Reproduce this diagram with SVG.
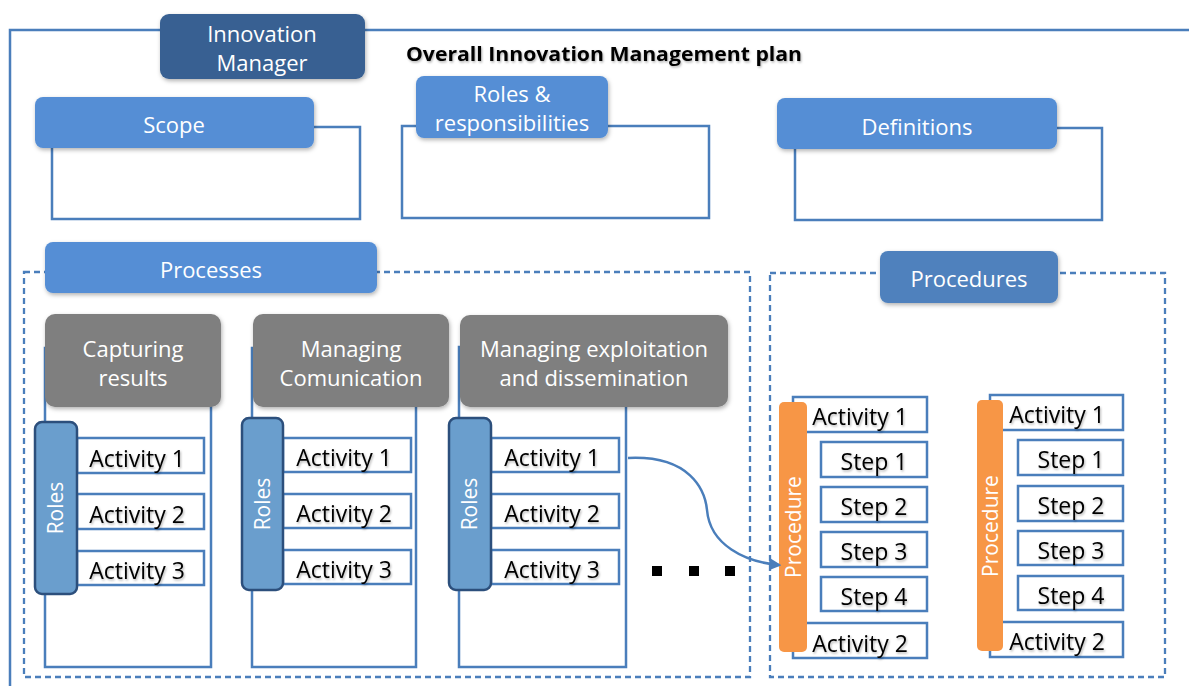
<svg xmlns="http://www.w3.org/2000/svg" width="1189" height="686" viewBox="0 0 1189 686">
<defs>
<filter id="sh" x="-20%" y="-20%" width="140%" height="150%"><feDropShadow dx="1" dy="2" stdDeviation="2" flood-color="#000" flood-opacity="0.3"/></filter>
<filter id="ts" x="-10%" y="-30%" width="120%" height="160%"><feDropShadow dx="1" dy="1.5" stdDeviation="1" flood-color="#000" flood-opacity="0.3"/></filter>
<marker id="arr" viewBox="0 0 10 10" refX="8" refY="5" markerWidth="5" markerHeight="5" orient="auto"><path d="M0,0 L10,5 L0,10 z" fill="#4A7EBB"/></marker>
<style>
.frame{fill:none;stroke:#4A7EBB;stroke-width:2.5}
.box{fill:#fff;stroke:#4A7EBB;stroke-width:2.5}
.dash{fill:none;stroke:#4A7EBB;stroke-width:2.3;stroke-dasharray:6 4}
.hdr{fill:#558ED5;filter:url(#sh)}
.hdr2{fill:#4F81BD;filter:url(#sh)}
.dark{fill:#376092;filter:url(#sh)}
.gray{fill:#7F7F7F;filter:url(#sh)}
.roles{fill:#6A9ECD;stroke:#2C4F7C;stroke-width:2.5}
.proc{fill:#F79646}
.wt{font-family:"Open Sans","Liberation Sans",sans-serif;font-size:22px;fill:#fff;text-anchor:middle}
.vt{font-family:"Open Sans","Liberation Sans",sans-serif;font-size:21px;fill:#fff;text-anchor:middle}
.bt{font-family:"Open Sans","Liberation Sans",sans-serif;font-size:23px;fill:#000;text-anchor:middle;filter:url(#ts)}
.title{font-family:"Open Sans","Liberation Sans",sans-serif;font-size:20px;font-weight:bold;fill:#000;filter:url(#ts)}
</style>
</defs>
<path class="frame" d="M10,690 V30 H1195"/>
<g id="title"><text class="title" x="406" y="61" textLength="396" lengthAdjust="spacingAndGlyphs">Overall Innovation Management plan</text></g>
<g id="innovation-manager"><rect class="dark" x="160" y="14" width="205" height="65" rx="9"/><text class="wt" x="262" y="42">Innovation</text><text class="wt" x="262" y="71">Manager</text></g>
<g id="scope"><rect class="box" x="52" y="127" width="308" height="92"/><rect class="hdr" x="35" y="97" width="279" height="51" rx="8"/><text class="wt" x="174" y="133">Scope</text></g>
<g id="roles-resp"><rect class="box" x="402" y="126" width="307" height="92"/><rect class="hdr" x="416" y="76" width="192" height="62" rx="8"/><text class="wt" x="512" y="102">Roles &amp;</text><text class="wt" x="512" y="131">responsibilities</text></g>
<g id="definitions"><rect class="box" x="795" y="128" width="307" height="92"/><rect class="hdr" x="777" y="98" width="280" height="51" rx="8"/><text class="wt" x="917" y="135">Definitions</text></g>
<g id="processes"><rect class="dash" x="24" y="272" width="726" height="405"/><rect class="hdr" x="45" y="242" width="332" height="51" rx="8"/><text class="wt" x="211" y="278">Processes</text></g>
<g id="procedures"><rect class="dash" x="770" y="273" width="395" height="404"/><rect class="hdr2" x="880" y="251" width="178" height="52" rx="8"/><text class="wt" x="969" y="287">Procedures</text></g>
<g id="capturing">
<rect class="box" x="45" y="348" width="166" height="319"/>
<rect class="gray" x="45" y="314" width="176" height="93" rx="10"/>
<text class="wt" x="133" y="357">Capturing</text><text class="wt" x="133" y="386">results</text>
<rect class="box" x="77" y="438" width="127" height="35"/><text class="bt" x="137" y="467">Activity 1</text>
<rect class="box" x="77" y="494" width="127" height="35"/><text class="bt" x="137" y="523">Activity 2</text>
<rect class="box" x="77" y="551" width="127" height="34"/><text class="bt" x="137" y="579">Activity 3</text>
<rect class="roles" x="35" y="422" width="42" height="172" rx="7"/><text class="vt" transform="translate(63,508) rotate(-90)">Roles</text>
</g>
<g id="managing-com">
<rect class="box" x="252" y="348" width="164" height="319"/>
<rect class="gray" x="253" y="314" width="196" height="93" rx="10"/>
<text class="wt" x="351" y="357">Managing</text><text class="wt" x="351" y="386">Comunication</text>
<rect class="box" x="283" y="438" width="128" height="34"/><text class="bt" x="344" y="466">Activity 1</text>
<rect class="box" x="283" y="494" width="128" height="34"/><text class="bt" x="344" y="522">Activity 2</text>
<rect class="box" x="283" y="550" width="128" height="34"/><text class="bt" x="344" y="578">Activity 3</text>
<rect class="roles" x="242" y="418" width="41" height="172" rx="7"/><text class="vt" transform="translate(270,504) rotate(-90)">Roles</text>
</g>
<g id="managing-exp">
<rect class="box" x="459" y="347" width="167" height="320"/>
<rect class="gray" x="460" y="315" width="268" height="92" rx="10"/>
<text class="wt" x="594" y="357">Managing exploitation</text><text class="wt" x="594" y="386">and dissemination</text>
<rect class="box" x="491" y="438" width="128" height="34"/><text class="bt" x="552" y="466">Activity 1</text>
<rect class="box" x="491" y="494" width="128" height="34"/><text class="bt" x="552" y="522">Activity 2</text>
<rect class="box" x="491" y="550" width="128" height="34"/><text class="bt" x="552" y="578">Activity 3</text>
<rect class="roles" x="449" y="418" width="42" height="172" rx="7"/><text class="vt" transform="translate(477,504) rotate(-90)">Roles</text>
</g>
<g id="ellipsis" fill="#000"><rect x="652" y="566" width="10" height="10"/><rect x="689" y="566" width="10" height="10"/><rect x="725" y="566" width="10" height="10"/></g>
<g id="procedure-a">
<rect class="box" x="793" y="397" width="134" height="35"/><text class="bt" x="860" y="425">Activity 1</text>
<rect class="box" x="821" y="442" width="106" height="35"/><text class="bt" x="874" y="470">Step 1</text>
<rect class="box" x="821" y="487" width="106" height="35"/><text class="bt" x="874" y="515">Step 2</text>
<rect class="box" x="821" y="532" width="106" height="35"/><text class="bt" x="874" y="560">Step 3</text>
<rect class="box" x="821" y="577" width="106" height="34"/><text class="bt" x="874" y="605">Step 4</text>
<rect class="box" x="793" y="623" width="134" height="35"/><text class="bt" x="860" y="652">Activity 2</text>
<rect class="proc" x="779" y="402" width="28" height="250" rx="5"/><text class="vt" transform="translate(801,527) rotate(-90)">Procedure</text>
</g>
<g id="procedure-b">
<rect class="box" x="990" y="395" width="133" height="35"/><text class="bt" x="1057" y="423">Activity 1</text>
<rect class="box" x="1018" y="440" width="105" height="35"/><text class="bt" x="1071" y="468">Step 1</text>
<rect class="box" x="1018" y="486" width="105" height="35"/><text class="bt" x="1071" y="514">Step 2</text>
<rect class="box" x="1018" y="531" width="105" height="34"/><text class="bt" x="1071" y="559">Step 3</text>
<rect class="box" x="1018" y="576" width="105" height="34"/><text class="bt" x="1071" y="604">Step 4</text>
<rect class="box" x="990" y="622" width="133" height="35"/><text class="bt" x="1057" y="650">Activity 2</text>
<rect class="proc" x="977" y="400" width="26" height="251" rx="5"/><text class="vt" transform="translate(998,526) rotate(-90)">Procedure</text>
</g>
<g id="connectors"><path d="M628,458 C690,455 705,490 707,510 C710,545 745,562 779,565" fill="none" stroke="#4A7EBB" stroke-width="2.5" marker-end="url(#arr)"/></g>
</svg>
